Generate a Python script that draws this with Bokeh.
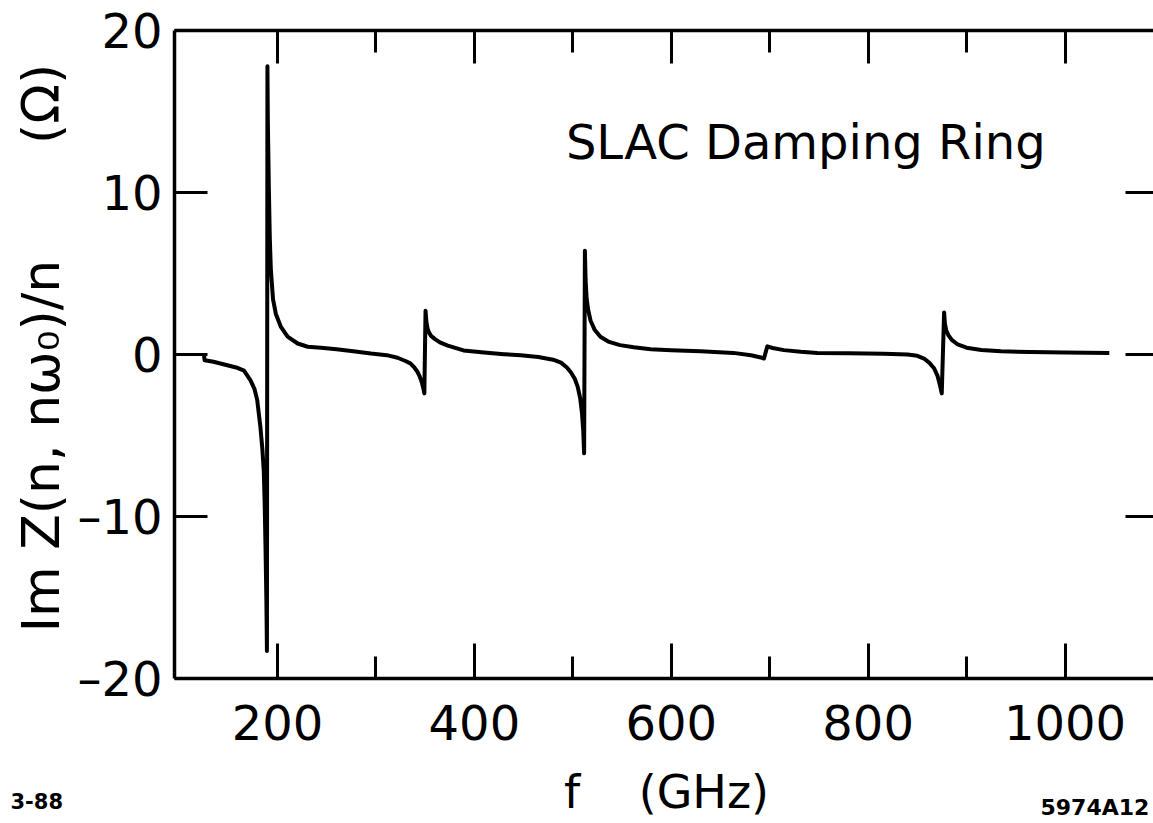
import math
from bokeh.plotting import figure
from bokeh.models import Range1d, LinearAxis, FixedTicker, Label
from bokeh.embed import file_html
from bokeh.resources import INLINE

# ---- data ----
freq_ghz = [123.5, 125.5, 126.0, 135, 149, 158, 166, 172.6, 176.5, 179.4, 182.7, 184.6, 186.1, 187.0, 187.8, 188.7, 189.3,
            189.8, 190.2, 191.2, 192.2, 193.3, 195.5, 198.4, 203.5, 210.3, 220.5, 230.7, 244, 260, 277, 295, 311, 322, 330,
            335, 339, 342, 344.5, 346.5, 348.0, 349.2,
            350.4, 351.3, 352.5, 354, 356, 360, 365, 373, 389, 410, 430, 447, 465, 480, 488, 494, 498, 502, 505, 507.5,
            509.3, 510.6, 511.5,
            512.3, 513.0, 514.0, 515.5, 518, 522, 528, 536, 548, 562, 579, 600, 630, 663, 681, 691, 694.2,
            697.6, 703, 714.5, 731.5, 748.5, 780, 816, 840, 850, 856.8, 862, 867, 870.4, 873, 874.8,
            877.2, 878, 879.3, 881.5, 885, 891, 900, 915, 935, 965, 1000, 1045]
im_z_over_n = [-0.1, -0.1, -0.35, -0.45, -0.66, -0.8, -1.0, -1.6, -2.1, -2.8, -4.5, -5.8, -7.2, -9.2, -11.7, -15.0, -18.3,
               17.8, 14.5, 10.4, 7.2, 5.2, 3.4, 2.5, 1.7, 1.1, 0.68, 0.48, 0.41, 0.32, 0.2, 0.06, -0.04, -0.2, -0.4,
               -0.55, -0.8, -1.05, -1.35, -1.7, -2.05, -2.4,
               2.7, 2.0, 1.6, 1.35, 1.15, 0.95, 0.75, 0.55, 0.25, 0.12, 0.02, -0.05, -0.15, -0.32, -0.5, -0.8, -1.1, -1.5,
               -2.0, -2.7, -3.6, -4.7, -6.1,
               6.4, 4.6, 3.5, 2.8, 2.1, 1.55, 1.1, 0.8, 0.58, 0.45, 0.32, 0.27, 0.2, 0.1, -0.05, -0.18, -0.25,
               0.5, 0.4, 0.27, 0.17, 0.1, 0.07, 0.05, 0.0, -0.08, -0.25, -0.5, -0.85, -1.3, -1.9, -2.4,
               2.6, 1.9, 1.5, 1.2, 0.9, 0.62, 0.42, 0.28, 0.2, 0.15, 0.12, 0.1]

x_major = [200, 400, 600, 800, 1000]
x_minor = [300, 500, 700, 900]
y_major = [-20, -10, 0, 10, 20]
y_labels = {-20: "\u201320", -10: "\u201310", 0: "0", 10: "10", 20: "20"}
y_right_ticks = [-10, 0, 10]

title_text = "SLAC Damping Ring"
x_label = "f\u00a0\u00a0\u00a0\u00a0(GHz)"
y_label = "Im Z(n, n\u03c9\u2080)/n" + "\u00a0" * 7 + "(\u03a9)"
date_note = "3-88"
figure_id = "5974A12"

# plotted box in data units (the box's right edge lies beyond the page)
X0, X1 = 95.4, 1089.9
Y0, Y1 = -20, 20

FONT = "DejaVu Sans"

# the frame fills the whole page; axes are drawn at fixed data locations
p = figure(width=1153, height=823, output_backend="svg", toolbar_location=None,
           x_range=Range1d(-81.36, 1089.9), y_range=Range1d(-28.95, 21.852),
           x_axis_location=None, y_axis_location=None,
           min_border_left=0, min_border_right=0, min_border_top=0, min_border_bottom=0)
p.grid.visible = False
p.outline_line_color = None
p.background_fill_color = "white"
p.border_fill_color = "white"

p.line(freq_ghz, im_z_over_n, line_color="black", line_width=4, line_join="round")


def style_ticks(ax, tin, minor_in=0):
    ax.major_tick_in = tin
    ax.major_tick_out = 0
    ax.minor_tick_in = minor_in
    ax.minor_tick_out = 0
    ax.major_tick_line_width = 3
    ax.minor_tick_line_width = 3
    if minor_in == 0:
        ax.minor_tick_line_color = None


# bottom axis
xa = LinearAxis(ticker=FixedTicker(ticks=x_major, minor_ticks=x_minor), fixed_location=Y0, bounds=(X0, X1))
style_ticks(xa, 35, 22)
xa.axis_line_width = 3.5
xa.major_label_text_font = FONT
xa.major_label_text_font_size = "48px"
xa.major_label_text_color = "black"
xa.major_label_standoff = 26
p.add_layout(xa, "below")

# top axis (ticks only)
ta = LinearAxis(ticker=FixedTicker(ticks=x_major, minor_ticks=x_minor), fixed_location=Y1, bounds=(X0, X1))
style_ticks(ta, 33, 22)
ta.axis_line_width = 3.5
ta.major_label_overrides = {v: "" for v in x_major}
ta.major_label_text_font_size = "1px"
ta.major_label_standoff = 0
p.add_layout(ta, "above")

# left axis
ya = LinearAxis(ticker=FixedTicker(ticks=y_major, minor_ticks=[]), fixed_location=X0, bounds=(Y0, Y1))
style_ticks(ya, 33)
ya.major_label_overrides = y_labels
ya.axis_line_width = 3.5
ya.major_label_text_font = FONT
ya.major_label_text_font_size = "48px"
ya.major_label_text_color = "black"
ya.major_label_standoff = 12
p.add_layout(ya, "left")

# right axis (ticks only)
ra = LinearAxis(ticker=FixedTicker(ticks=y_right_ticks, minor_ticks=[]), fixed_location=X1, bounds=(Y0, Y1))
style_ticks(ra, 28)
ra.axis_line_color = None
ra.major_label_overrides = {v: "" for v in y_right_ticks}
ra.major_label_text_font_size = "1px"
ra.major_label_standoff = 0
p.add_layout(ra, "right")

# texts
p.add_layout(Label(x=493, y=13.1, text=title_text, text_font=FONT, text_font_size="48px",
                   text_color="black", text_baseline="alphabetic"))
p.add_layout(Label(x=595.2, y=-27.0, text=x_label, text_font=FONT, text_font_size="46px",
                   text_color="black", text_align="center", text_baseline="alphabetic"))
p.add_layout(Label(x=-40.7, y=0.4, text=y_label, text_font=FONT, text_font_size="52px",
                   text_color="black", text_align="center", text_baseline="middle", angle=math.pi / 2))
p.add_layout(Label(x=-71.2, y=-27.55, text=date_note, text_font=FONT, text_font_size="21px",
                   text_font_style="bold", text_color="black", text_baseline="alphabetic"))
p.add_layout(Label(x=975.1, y=-27.95, text=figure_id, text_font=FONT, text_font_size="22px",
                   text_font_style="bold", text_color="black", text_baseline="alphabetic"))

open("out.html", "w").write(file_html(p, INLINE))
